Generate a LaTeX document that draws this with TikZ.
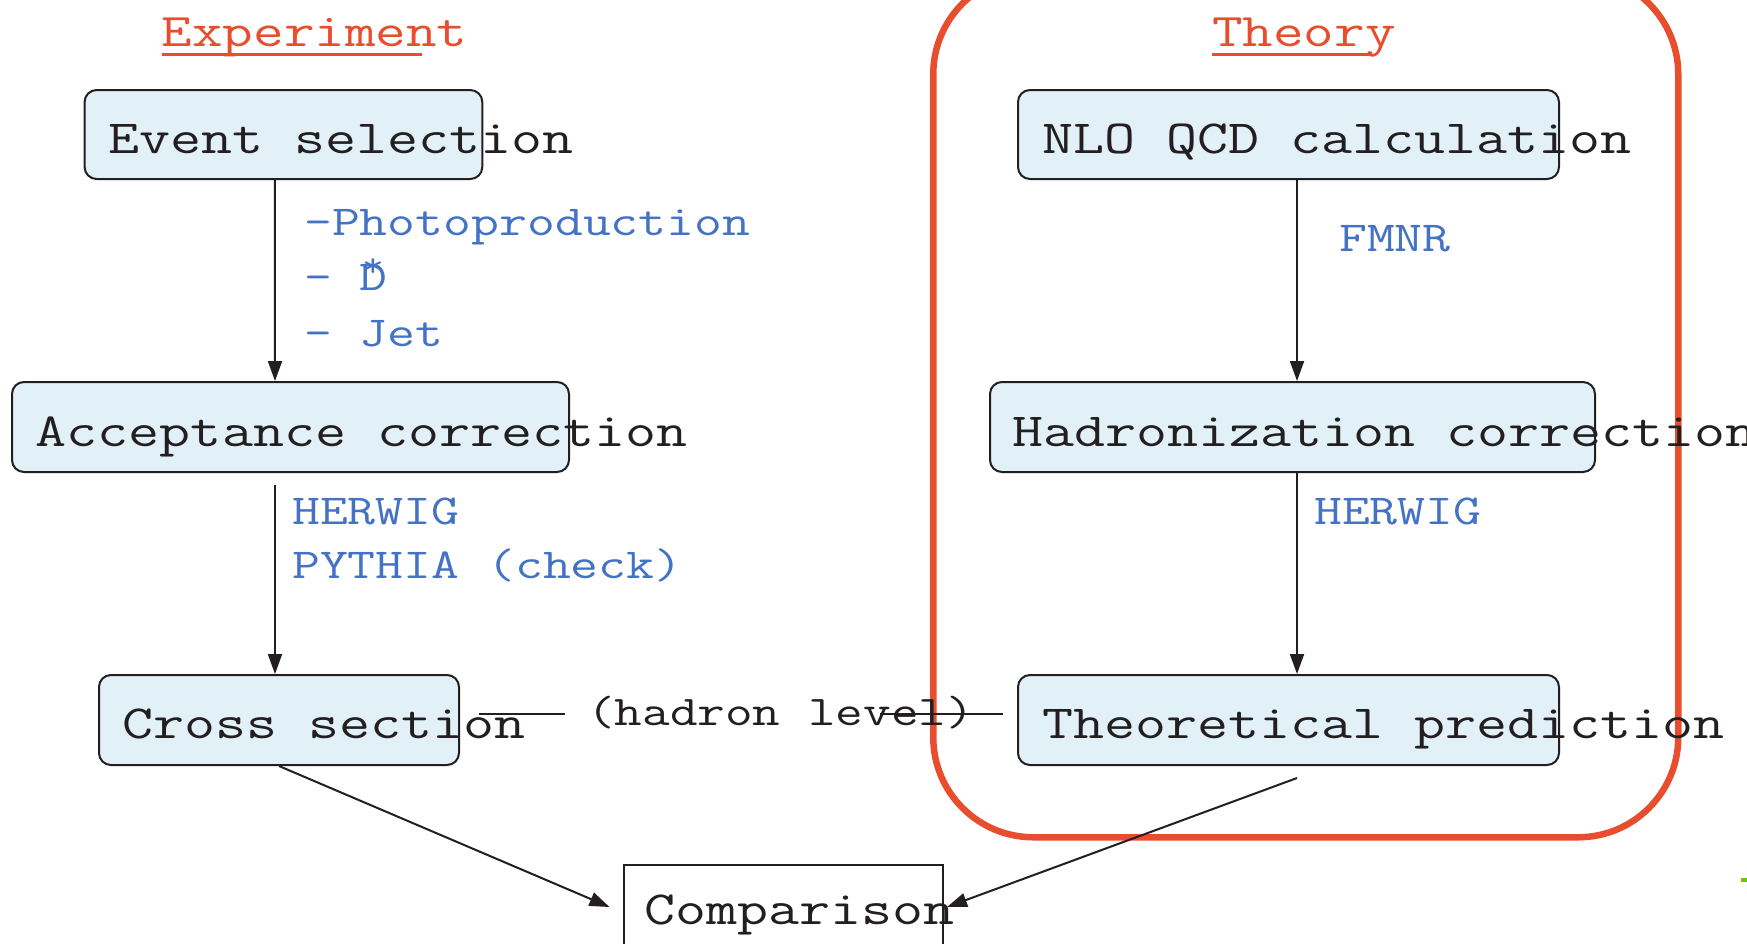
\documentclass[tikz,border=0pt]{standalone}
\usepackage{fontspec}
\newfontfamily\refmono[FakeStretch=1.268]{Latin Modern Mono}
\usetikzlibrary{arrows.meta,calc}
\definecolor{boxfill}{HTML}{E2F0F8}
\definecolor{ink}{HTML}{231F20}
\definecolor{redline}{HTML}{E84E2D}
\definecolor{bluetxt}{HTML}{4472C4}
\definecolor{greenmark}{HTML}{66CC00}
\begin{document}
\begin{tikzpicture}[x=1pt,y=-1pt,
  stagebox/.style={draw=ink, line width=2pt, fill=boxfill, rounded corners=12pt, inner sep=0pt, anchor=north west},
  plainbox/.style={draw=ink, line width=2pt, fill=white, inner sep=0pt, anchor=north west},
  bigtxt/.style={font=\refmono\fontsize{47.5}{56}\selectfont, text=ink, inner sep=0pt, anchor=base west},
  titletxt/.style={font=\refmono\fontsize{46.8}{56}\selectfont, text=redline, inner sep=0pt, anchor=base west},
  notetxt/.style={font=\refmono\fontsize{42.7}{50}\selectfont, text=bluetxt, inner sep=0pt, anchor=base west},
  midtxt/.style={font=\refmono\fontsize{42.3}{50}\selectfont, text=ink, inner sep=0pt, anchor=base west},
  flow/.style={draw=ink, line width=2pt, -{Triangle[length=20pt,width=14pt]}},
  plainline/.style={draw=ink, line width=2pt},
  uline/.style={draw=redline, line width=3pt}
]
\useasboundingbox (0,0) rectangle (1747,943);
\fill[white] (0,0) rectangle (1747,943);

% theory frame
\node[draw=redline, line width=6.5pt, rounded corners=100pt, inner sep=0pt, anchor=north west,
      minimum width=745pt, minimum height=863pt] (frame) at (930,-29) {};

% titles
\node[titletxt] (exp) at (161.6,46.8) {Experiment};
\draw[uline] ([yshift=-8pt]exp.base west) -- ++(260,0);
\node[titletxt] (thyt) at (1212,46.8) {Theory};
\draw[uline] ([yshift=-8pt]thyt.base west) -- ++(159,0);

% boxes
\node[stagebox, minimum width=397.7pt, minimum height=89pt] (evt) at (83.6,89) {};
\node[stagebox, minimum width=557pt, minimum height=90pt] (acc) at (11,381) {};
\node[stagebox, minimum width=360pt, minimum height=90pt] (crs) at (98,674) {};
\node[stagebox, minimum width=541pt, minimum height=89pt] (nlo) at (1017,89) {};
\node[stagebox, minimum width=605pt, minimum height=90pt] (had) at (989,381) {};
\node[stagebox, minimum width=541pt, minimum height=90pt] (thy) at (1017,674) {};
\node[plainbox, minimum width=318.5pt, minimum height=110pt] (cmp) at (623,863.5) {};

% box texts
\node[bigtxt] (evtt) at (108,153.5) {Event selection};
\node[bigtxt] (acct) at (35.7,446) {Acceptance correction};
\node[bigtxt] (crst) at (122.6,738) {Cross section};
\node[bigtxt] (nlot) at (1042,153.5) {NLO QCD calculation};
\node[bigtxt] (hadt) at (1012,446) {Hadronization correction};
\node[bigtxt] (thyt2) at (1042,738) {Theoretical prediction};
\node[bigtxt] (cmpt) at (644,924) {Comparison};

% notes
\node[notetxt] (n1) at (304,235) {-Photoproduction};
\node[notetxt] (n2) at (304,290) {- D};
\node[font=\refmono\fontsize{34}{40}\selectfont, text=bluetxt, inner sep=0pt, anchor=north] (n2s) at (373,259) {*};
\node[notetxt] (n3) at (304,346) {- Jet};
\node[notetxt] (n4) at (292,524) {HERWIG};
\node[notetxt] (n5) at (292,578) {PYTHIA (check)};
\node[notetxt] (n6) at (1339,251) {FMNR};
\node[notetxt] (n7) at (1314,524) {HERWIG};

% connectors
\draw[flow] ([xshift=-8.5pt]evt.south) -- ([xshift=-15.5pt]acc.north);
\draw[flow] ([xshift=-15.5pt,yshift=-12pt]acc.south) -- ([xshift=-4pt]crs.north);
\draw[flow] ([xshift=8.5pt]nlo.south) -- ([xshift=4.5pt]had.north);
\draw[flow] ([xshift=4.5pt]had.south) -- ([xshift=8.5pt]thy.north);
\coordinate (c1) at (609.5,907);
\coordinate (c2) at (947,907);
\draw[flow] (crs.south) -- (c1);
\draw[flow] ([xshift=8.5pt,yshift=-12pt]thy.south) -- (c2);

% hadron level link
\coordinate (h1) at (479,714);
\coordinate (h2) at (565,714);
\coordinate (h3) at (880,714);
\coordinate (h4) at (1003,714);
\draw[plainline] (h1) -- (h2);
\draw[plainline] (h3) -- (h4);
\node[midtxt] (hl) at (587,725) {(hadron level)};

% small green mark
\fill[greenmark] (1741,878) rectangle (1747,882);
\end{tikzpicture}
\end{document}
